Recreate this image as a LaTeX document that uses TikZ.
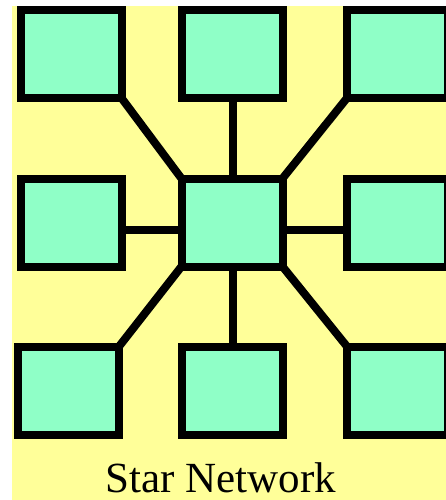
\documentclass[tikz,border=0pt]{standalone}
\usepackage{fontspec}
\setmainfont{Liberation Serif}
\definecolor{bgyellow}{RGB}{255,255,153}
\definecolor{boxgreen}{RGB}{143,255,199}
\begin{document}
\begin{tikzpicture}[x=1pt,y=-1pt,
  netbox/.style={draw=black,fill=boxgreen,line width=8pt,minimum width=101pt,minimum height=88pt,inner sep=0pt,outer sep=0pt,rectangle},
  link/.style={line width=8pt,line cap=butt}]
\useasboundingbox (0,0) rectangle (446,500);
\clip (0,0) rectangle (446,500);
\fill[white] (0,0) rectangle (446,500);
\fill[bgyellow] (12,6) rectangle (446,500);
% boxes
\node[netbox] (tl) at (71,54) {};
\node[netbox] (tm) at (232,54) {};
\node[netbox] (tr) at (397.5,54) {};
\node[netbox] (ml) at (71,222.5) {};
\node[netbox] (c)  at (232,222.5) {};
\node[netbox] (mr) at (397.5,222.5) {};
\node[netbox] (bl) at (68.5,390.5) {};
\node[netbox] (bm) at (232,390.5) {};
\node[netbox] (br) at (397.5,390.5) {};
% links
\draw[link] (c.north west) -- (tl.south east);
\draw[link] ([xshift=1pt]c.north) -- ([xshift=1pt]tm.south);
\draw[link] (c.north east) -- (tr.south west);
\draw[link] ([yshift=-7.5pt]c.west) -- ([yshift=-7.5pt]ml.east);
\draw[link] ([yshift=-7.5pt]c.east) -- ([yshift=-7.5pt]mr.west);
\draw[link] (c.south west) -- (bl.north east);
\draw[link] ([xshift=1pt]c.south) -- ([xshift=1pt]bm.north);
\draw[link] (c.south east) -- (br.north west);
% label
\node[anchor=base,inner sep=0pt,font=\fontsize{43}{50}\selectfont] (title) at (221,492) {Star Network};
\end{tikzpicture}
\end{document}
